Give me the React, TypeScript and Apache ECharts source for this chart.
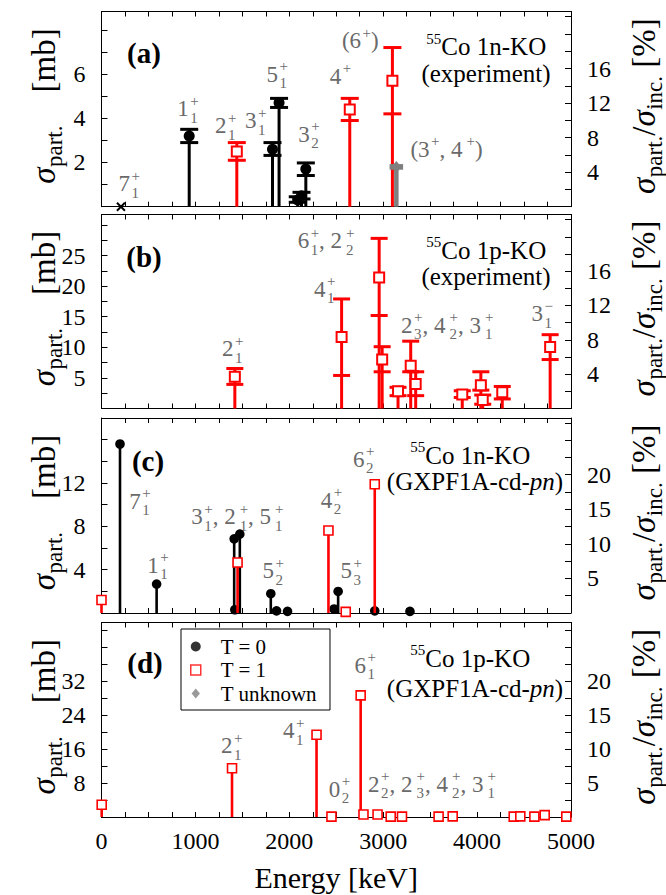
import React, { useEffect, useRef } from "react";
import * as echarts from "echarts";

const FONT = "'Liberation Serif', 'DejaVu Serif', 'Times New Roman', serif";
const RED = "#ff0000";
const GRAY_MARK = "#7f7f7f";
const LABEL_GRAY = "#6a6a6a";

// ---------- x axis ----------
const xTickLabels = [0, 1000, 2000, 3000, 4000, 5000];

// ---------- (a) 55Co 1n-KO experiment ----------
const aEnergy = [207, 934, 1441, 1821, 1891, 2090, 2130, 2176, 2644, 3098, 3140];
const aValue = [0, 3.2, 2.5, 2.6, 4.7, 0.3, 0.5, 1.7, 4.4, 5.7, 1.8];
const aLow = [0, 2.9, 2.1, 2.32, 4.49, 0.2, 0.35, 1.41, 3.9, 4.2, 1.74];
const aHigh = [0, 3.5, 2.9, 2.9, 4.9, 0.45, 0.65, 1.98, 4.9, 7.2, 1.86];
const aType = ["UL", "T0", "T1", "T0", "T0", "T0", "T0", "T0", "T1", "T1", "TU"];
const aLabels = ["7_1^+", "1_1^+", "2_1^+", "3_1^+", "5_1^+", "3_2^+", "4^+", "(6^+)", "(3^+, 4^+)"];
const aLabelE = [180, 808, 1210, 1527, 1757, 2094, 2430, 2560, 3290];
const aLabelV = [1.03, 4.42, 3.66, 3.88, 6.0, 3.28, 5.9, 7.5, 2.6];

// ---------- (b) 55Co 1p-KO experiment ----------
const bEnergy = [1420, 2557, 2957, 2989, 3158, 3293, 3346, 3842, 4040, 4060, 4268, 4778];
const bValue = [5.2, 11.7, 21.4, 8.0, 2.8, 7.0, 4.0, 2.3, 3.8, 1.4, 2.65, 10.06];
const bLow = [3.94, 5.4, 15.2, 6.0, 2.1, 6.0, 2.1, 1.8, 3.0, 0.7, 1.56, 8.0];
const bHigh = [6.54, 17.9, 27.8, 10.1, 3.46, 11.0, 6.0, 2.9, 6.0, 2.2, 3.6, 12.06];
const bType = ["T1", "T1", "T1", "T1", "T1", "T1", "T1", "T1", "T1", "T1", "T1", "T1"];
const bLabels = ["2_1^+", "4_1^+", "6_1^+, 2_2^+", "2_3^+, 4_2^+, 3_1^+", "3_1^\u2212"];
const bLabelE = [1284, 2262, 2089, 3190, 4580];
const bLabelV = [9.8, 19.5, 27.4, 13.6, 15.5];

// ---------- (c) 55Co 1n-KO GXPF1A-cd-pn ----------
const cEnergy = [0, 197, 587, 1413, 1420, 1449, 1473, 1803, 1864, 1981, 2417, 2477, 2520, 2601, 2910, 2910, 3285];
const cValue = [1.2, 15.6, 2.67, 6.85, 0.3, 4.66, 7.28, 1.78, 0.2, 0.15, 7.61, 0.37, 1.99, 0.1, 11.89, 0.2, 0.15];
const cType = ["T1", "T0", "T0", "T0", "T0", "T1", "T0", "T0", "T0", "T0", "T1", "T0", "T0", "T1", "T1", "T0", "T0"];
const cLabels = ["7_1^+", "1_1^+", "3_1^+, 2_1^+, 5_1^+", "5_2^+", "4_2^+", "5_3^+", "6_2^+"];
const cLabelE = [296, 487, 955, 1715, 2335, 2545, 2679];
const cLabelV = [10.3, 4.4, 8.9, 3.9, 10.4, 3.9, 14.2];

// ---------- (d) 55Co 1p-KO GXPF1A-cd-pn ----------
const dEnergy = [2, 1390, 2290, 2449, 2760, 2790, 2940, 3080, 3200, 3590, 3740, 4390, 4460, 4610, 4720, 4950];
const dValue = [2.88, 11.5, 19.4, 0.1, 28.7, 0.6, 0.6, 0.1, 0.1, 0.1, 0.15, 0.1, 0.15, 0.1, 0.45, 0.1];
const dType = ["T1", "T1", "T1", "T1", "T1", "T1", "T1", "T1", "T1", "T1", "T1", "T1", "T1", "T1", "T1", "T1"];
const dLabels = ["2_1^+", "4_1^+", "0_2^+", "6_1^+", "2_2^+, 2_3^+, 4_2^+, 3_1^+"];
const dLabelE = [1273, 1934, 2421, 2694, 2839];
const dLabelV = [16.8, 20.4, 6.5, 35.8, 7.7];

// ---------- y axes tick labels ----------
const leftTickLabels = [[2, 4, 6], [5, 10, 15, 20, 25], [4, 8, 12], [8, 16, 24, 32]];
const rightTickLabels = [[4, 8, 12, 16], [4, 8, 12, 16], [5, 10, 15, 20], [5, 10, 15, 20]];

// ---------- texts ----------
const panelTags = ["(a)", "(b)", "(c)", "(d)"];
const panelNotes = [
  ["^{55}Co 1n-KO", "(experiment)"],
  ["^{55}Co 1p-KO", "(experiment)"],
  ["^{55}Co 1n-KO", "(GXPF1A-cd-$pn$)"],
  ["^{55}Co 1p-KO", "(GXPF1A-cd-$pn$)"],
];
const leftTitle = "$\u03c3$_{part.}\u2002\u2002[mb]";
const rightTitle = "$\u03c3$_{part.}/$\u03c3$_{inc.} [%]";
const xTitle = "Energy [keV]";
const legendNames = ["T = 0", "T = 1", "T unknown"];

// ---------- layout ----------
const GRID_LEFT = 101.5;
const GRID_W = 469.5;
const panelTop = [11.5, 214.5, 418, 622.5];
const panelH = [195.2, 194, 195, 194.5];
const leftMax = [8.83, 31.7, 18.0, 45.9];
const leftInterval = [1, 2.5, 2, 4];
const rightMax = [22.6, 22.6, 28.2, 28.7];
const rightInterval = [2, 2, 2.5, 2.5];
const tagPos = [[144, 53], [144, 257], [148, 461], [145, 663]];
const notePos = [
  [[486, 46.5], [486, 73]],
  [[486, 250], [486, 276.5]],
  [[470, 455], [475, 481.5]],
  [[470, 658], [475, 688]],
];

const TYPE_CODE: Record<string, number> = { T0: 0, T1: 1, TU: 2, UL: 3 };

// ---------- text measuring ----------
let ctx: CanvasRenderingContext2D | null = null;
function measure(t: string, size: number, italic = false, bold = false) {
  if (!ctx) ctx = document.createElement("canvas").getContext("2d");
  if (!ctx) return t.length * size * 0.5;
  ctx.font = `${italic ? "italic " : ""}${bold ? "bold " : ""}${size}px ${FONT}`;
  return ctx.measureText(t).width;
}

type Seg = { t: string; it: boolean; sub?: string; sup?: string };
function parseMath(s: string): Seg[] {
  const segs: Seg[] = [];
  let it = false;
  let cur: Seg = { t: "", it };
  let i = 0;
  const flush = () => {
    if (cur.t || cur.sub != null || cur.sup != null) segs.push(cur);
    cur = { t: "", it };
  };
  while (i < s.length) {
    const c = s[i];
    if (c === "$") {
      flush();
      it = !it;
      cur = { t: "", it };
      i++;
      continue;
    }
    if (c === "_" || c === "^") {
      let arg: string;
      if (s[i + 1] === "{") {
        const j = s.indexOf("}", i + 2);
        arg = s.slice(i + 2, j);
        i = j + 1;
      } else {
        arg = s[i + 1];
        i += 2;
      }
      if (c === "_") cur.sub = arg;
      else cur.sup = arg;
      continue;
    }
    if (cur.sub != null || cur.sup != null) flush();
    cur.t += c;
    i++;
  }
  flush();
  return segs;
}

type MathOpts = {
  size: number;
  ssize: number;
  supDy: number;
  subDy: number;
  color: string;
  align: "left" | "center";
  rotation?: number;
  bold?: boolean;
  gap?: number;
  commaExtra?: number;
};
function mathGroup(src: string, x: number, y: number, o: MathOpts) {
  const segs = parseMath(src);
  const kids: any[] = [];
  const gap = o.gap ?? 0.5;
  let cx = 0;
  const mk = (t: string, xx: number, yy: number, size: number, it: boolean) => {
    const lead = (t.match(/^\s*/) || [""])[0];
    const txt = t.trim();
    if (!txt) return;
    kids.push({
      type: "text",
      x: xx + (lead ? measure(lead, size, it, o.bold) : 0),
      y: yy,
      silent: true,
      style: {
        text: txt,
        fontSize: size,
        fontFamily: FONT,
        fontStyle: it ? "italic" : "normal",
        fontWeight: o.bold ? "bold" : "normal",
        fill: o.color,
        align: "left",
        verticalAlign: "middle",
      },
    });
  };
  for (const s of segs) {
    if (s.t) {
      mk(s.t, cx, 0, o.size, s.it);
      cx += measure(s.t, o.size, s.it, o.bold);
      const commas = (s.t.match(/,/g) || []).length;
      cx += commas * (o.commaExtra || 0);
    }
    if (s.sub != null || s.sup != null) {
      let w = 0;
      if (s.sup != null) {
        mk(s.sup, cx + gap, o.supDy, o.ssize, false);
        w = Math.max(w, measure(s.sup, o.ssize));
      }
      if (s.sub != null) {
        mk(s.sub, cx + gap, o.subDy, o.ssize, false);
        w = Math.max(w, measure(s.sub, o.ssize));
      }
      cx += w + gap;
    }
  }
  const shift = o.align === "center" ? -cx / 2 : 0;
  kids.forEach((k) => (k.x += shift));
  return { type: "group", x, y, rotation: o.rotation || 0, silent: true, children: kids };
}

// ---------- render items ----------
function markerShape(t: number, x: number, y: number, big: boolean): any {
  if (t === 0) {
    return { type: "circle", shape: { cx: x, cy: y, r: big ? 5.5 : 4.8 }, style: { fill: "#000" } };
  }
  if (t === 1) {
    const h = big ? 5 : 4.5;
    return {
      type: "rect",
      shape: { x: x - h, y: y - h, width: 2 * h, height: 2 * h },
      style: { fill: "#fff", stroke: RED, lineWidth: big ? 2 : 1.6 },
    };
  }
  return {
    type: "polygon",
    shape: { points: [[x, y - 6], [x + 5, y], [x, y + 6], [x - 5, y]] },
    style: { fill: GRAY_MARK },
  };
}
const colorOf = (t: number) => (t === 1 ? RED : t === 2 ? GRAY_MARK : "#000");

const errRender = (capW: number) => (_p: any, api: any) => {
  const e = api.value(0);
  const v = api.value(1);
  const lo = api.value(2);
  const hi = api.value(3);
  const t = api.value(4);
  const pv = api.coord([e, v]);
  if (t === 3) {
    const s = 4;
    return {
      type: "group",
      children: [
        { type: "line", shape: { x1: pv[0] - s, y1: pv[1] - s, x2: pv[0] + s, y2: pv[1] + s }, style: { stroke: "#000", lineWidth: 2 } },
        { type: "line", shape: { x1: pv[0] - s, y1: pv[1] + s, x2: pv[0] + s, y2: pv[1] - s }, style: { stroke: "#000", lineWidth: 2 } },
      ],
    };
  }
  const base = api.coord([e, 0]);
  const pl = api.coord([e, lo]);
  const ph = api.coord([e, hi]);
  const c = colorOf(t);
  const lw = t === 2 ? 4.5 : 3;
  const cw = t === 2 ? capW * 0.75 : capW;
  return {
    type: "group",
    children: [
      { type: "line", shape: { x1: base[0], y1: base[1], x2: ph[0], y2: ph[1] }, style: { stroke: c, lineWidth: lw } },
      { type: "line", shape: { x1: pl[0] - cw / 2, y1: pl[1], x2: pl[0] + cw / 2, y2: pl[1] }, style: { stroke: c, lineWidth: 3 } },
      { type: "line", shape: { x1: ph[0] - cw / 2, y1: ph[1], x2: ph[0] + cw / 2, y2: ph[1] }, style: { stroke: c, lineWidth: 3 } },
      markerShape(t, pv[0], pv[1], true),
    ],
  };
};

const stemRender = (_p: any, api: any) => {
  const e = api.value(0);
  const v = api.value(1);
  const t = api.value(2);
  const base = api.coord([e, 0]);
  const pv = api.coord([e, v]);
  return {
    type: "group",
    children: [
      { type: "line", shape: { x1: base[0], y1: base[1], x2: pv[0], y2: pv[1] }, style: { stroke: colorOf(t), lineWidth: 2.6 } },
      markerShape(t, pv[0], pv[1], false),
    ],
  };
};

function errData(E: number[], V: number[], L: number[], Hh: number[], T: string[]) {
  return E.map((e, i) => [e, V[i], L[i], Hh[i], TYPE_CODE[T[i]]]).sort((a, b) => a[4] - b[4]);
}
function stemData(E: number[], V: number[], T: string[]) {
  return E.map((e, i) => [e, V[i], TYPE_CODE[T[i]]]).sort((a, b) => a[2] - b[2]);
}

const inList = (list: number[]) => (v: number) => (list.some((l) => Math.abs(l - v) < 1e-6) ? String(v) : "");

function buildOption() {
  const grid = panelTop.map((t, i) => ({ left: GRID_LEFT, top: t, width: GRID_W, height: panelH[i], show: false }));
  const xAxis: any[] = [];
  const yAxis: any[] = [];
  for (let i = 0; i < 4; i++) {
    for (const pos of ["bottom", "top"]) {
      xAxis.push({
        type: "value",
        gridIndex: i,
        position: pos,
        min: 0,
        max: 5000,
        interval: 250,
        axisLine: { show: true, onZero: false, lineStyle: { color: "#000", width: 1 } },
        axisTick: { show: true, inside: true, length: 5, lineStyle: { color: "#000", width: 1 } },
        axisLabel: {
          show: i === 3 && pos === "bottom",
          formatter: inList(xTickLabels),
          fontSize: 24,
          fontFamily: FONT,
          color: "#000",
          margin: 12,
        },
        splitLine: { show: false },
      });
    }
    yAxis.push({
      type: "value",
      gridIndex: i,
      position: "left",
      min: 0,
      max: leftMax[i],
      interval: leftInterval[i],
      axisLine: { show: true, onZero: false, lineStyle: { color: "#000", width: 1 } },
      axisTick: { show: true, inside: true, length: 6, lineStyle: { color: "#000", width: 1 } },
      axisLabel: { formatter: inList(leftTickLabels[i]), fontSize: 24, fontFamily: FONT, color: "#000", margin: 16 },
      splitLine: { show: false },
    });
    yAxis.push({
      type: "value",
      gridIndex: i,
      position: "right",
      min: 0,
      max: rightMax[i],
      interval: rightInterval[i],
      axisLine: { show: true, onZero: false, lineStyle: { color: "#000", width: 1 } },
      axisTick: { show: true, inside: true, length: 6, lineStyle: { color: "#000", width: 1 } },
      axisLabel: { formatter: inList(rightTickLabels[i]), fontSize: 24, fontFamily: FONT, color: "#000", margin: 16 },
      splitLine: { show: false },
    });
  }
  const series: any[] = [
    {
      type: "custom",
      name: "a",
      xAxisIndex: 0,
      yAxisIndex: 0,
      clip: false,
      renderItem: errRender(18),
      encode: { x: 0, y: 1 },
      data: errData(aEnergy, aValue, aLow, aHigh, aType),
    },
    {
      type: "custom",
      name: "b",
      xAxisIndex: 2,
      yAxisIndex: 2,
      clip: false,
      renderItem: errRender(17),
      encode: { x: 0, y: 1 },
      data: errData(bEnergy, bValue, bLow, bHigh, bType),
    },
    {
      type: "custom",
      name: "c",
      xAxisIndex: 4,
      yAxisIndex: 4,
      clip: false,
      renderItem: stemRender,
      encode: { x: 0, y: 1 },
      data: stemData(cEnergy, cValue, cType),
    },
    {
      type: "custom",
      name: "d",
      xAxisIndex: 6,
      yAxisIndex: 6,
      clip: false,
      renderItem: stemRender,
      encode: { x: 0, y: 1 },
      data: stemData(dEnergy, dValue, dType),
    },
    { type: "scatter", name: legendNames[0], xAxisIndex: 6, yAxisIndex: 6, data: [], itemStyle: { color: "#000" } },
    { type: "scatter", name: legendNames[1], xAxisIndex: 6, yAxisIndex: 6, data: [], itemStyle: { color: "#fff", borderColor: RED } },
    { type: "scatter", name: legendNames[2], xAxisIndex: 6, yAxisIndex: 6, data: [], itemStyle: { color: GRAY_MARK } },
  ];
  return {
    animation: false,
    backgroundColor: "#fff",
    grid,
    xAxis,
    yAxis,
    series,
    legend: {
      left: 181,
      top: 629,
      orient: "vertical",
      padding: [7, 13, 6, 9],
      itemGap: 2.5,
      itemWidth: 40,
      itemHeight: 10,
      symbolKeepAspect: true,
      borderColor: "#000",
      borderWidth: 1,
      backgroundColor: "#fff",
      selectedMode: false,
      textStyle: { fontSize: 21, fontFamily: FONT, color: "#000", lineHeight: 21 },
      data: [
        { name: legendNames[0], icon: "circle", itemStyle: { color: "#000" } },
        {
          name: legendNames[1],
          icon: "path://M0,0L10,0L10,10L0,10Z",
          itemStyle: { color: "#fff", borderColor: RED, borderWidth: 1.5 },
        },
        { name: legendNames[2], icon: "path://M5,0L10,6L5,12L0,6Z", itemStyle: { color: GRAY_MARK } },
      ],
    },
  };
}

function buildGraphics(chart: any) {
  const gs: any[] = [];
  const panels = [
    { labels: aLabels, E: aLabelE, V: aLabelV },
    { labels: bLabels, E: bLabelE, V: bLabelV },
    { labels: cLabels, E: cLabelE, V: cLabelV },
    { labels: dLabels, E: dLabelE, V: dLabelV },
  ];
  const labelOpts: MathOpts = {
    size: 23,
    ssize: 15,
    supDy: -8,
    subDy: 9,
    color: LABEL_GRAY,
    align: "left",
    gap: 1.5,
    commaExtra: 2.5,
  };
  panels.forEach((p, i) => {
    p.labels.forEach((lab, k) => {
      const pt = chart.convertToPixel({ seriesIndex: i }, [p.E[k], p.V[k]]);
      gs.push(mathGroup(lab, pt[0], pt[1], labelOpts));
    });
  });
  const noteOpts: MathOpts = { size: 25, ssize: 15, supDy: -8, subDy: 7, color: "#000", align: "center" };
  panelNotes.forEach((lines, i) => {
    lines.forEach((ln, k) => {
      gs.push(mathGroup(ln, notePos[i][k][0], notePos[i][k][1], noteOpts));
    });
  });
  panelTags.forEach((t, i) => {
    gs.push({
      type: "text",
      x: tagPos[i][0],
      y: tagPos[i][1],
      silent: true,
      style: { text: t, fontSize: 29, fontWeight: "bold", fontFamily: FONT, fill: "#000", align: "center", verticalAlign: "middle" },
    });
  });
  const titleOpts: MathOpts = { size: 33, ssize: 23, supDy: -10, subDy: 10, color: "#000", align: "center", rotation: Math.PI / 2 };
  panelTop.forEach((t, i) => {
    const cy = t + panelH[i] / 2 - 3;
    gs.push(mathGroup(leftTitle, 44, cy, titleOpts));
    gs.push(mathGroup(rightTitle, 644, cy, titleOpts));
  });
  gs.push({
    type: "text",
    x: GRID_LEFT + GRID_W / 2,
    y: 877,
    silent: true,
    style: { text: xTitle, fontSize: 30, fontFamily: FONT, fill: "#000", align: "center", verticalAlign: "middle" },
  });
  return gs;
}

export default function App() {
  const ref = useRef<HTMLDivElement>(null);
  useEffect(() => {
    if (!ref.current) return;
    const chart = echarts.init(ref.current, undefined, { renderer: "svg" });
    chart.setOption(buildOption());
    chart.setOption({ graphic: buildGraphics(chart) });
    return () => chart.dispose();
  }, []);
  return <div ref={ref} style={{ position: "absolute", left: 0, top: 0, width: 666, height: 895 }} />;
}
